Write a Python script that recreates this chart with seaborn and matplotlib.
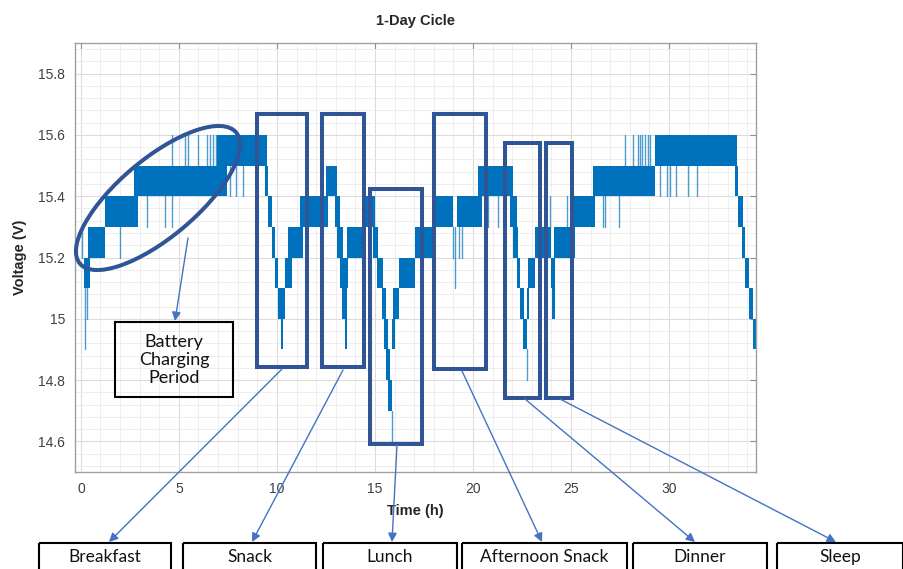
import numpy as np
import pandas as pd
import seaborn as sns
import matplotlib.pyplot as plt
from matplotlib.patches import Rectangle, Ellipse
from matplotlib.ticker import MultipleLocator

# Voltage trace: dense switching between adjacent 0.1 V levels
# is stored as bands (start time, end time, lower level of the 0.1 V band)
band_start = [0.15, 0.36, 1.22, 2.70, 6.95,
              9.40, 9.54, 9.74, 9.90, 10.05, 10.23, 10.26, 10.40, 10.56, 11.17, 12.50,
              12.96, 13.06, 13.20, 13.30, 13.47, 13.55, 13.60, 14.34,
              14.90, 15.10, 15.36, 15.46, 15.56, 15.66, 15.87, 15.92, 16.22, 17.04, 17.90,
              19.20, 20.26,
              21.89, 22.04, 22.24, 22.40, 22.55, 22.76, 22.80, 23.16,
              24.00, 24.05, 24.15, 25.10, 26.12, 29.29,
              33.37, 33.52, 33.72, 33.88, 34.08, 34.29]
band_end = [0.45, 1.22, 2.90, 7.45, 9.50,
            9.55, 9.74, 9.90, 10.05, 10.26, 10.33, 10.40, 10.77, 11.33, 12.60, 13.06,
            13.21, 13.37, 13.50, 13.57, 13.60, 13.65, 14.34, 15.00,
            15.15, 15.40, 15.56, 15.66, 15.77, 15.87, 16.02, 16.22, 17.04, 17.90, 18.98,
            20.46, 22.04,
            22.24, 22.30, 22.40, 22.60, 22.76, 22.85, 23.16, 24.00,
            24.20, 24.18, 25.20, 26.22, 29.29, 33.47,
            33.52, 33.78, 33.88, 34.08, 34.29, 34.44]
band_low = [15.1, 15.2, 15.3, 15.4, 15.5,
            15.4, 15.3, 15.2, 15.1, 15.0, 14.9, 15.0, 15.1, 15.2, 15.3, 15.4,
            15.3, 15.2, 15.1, 15.0, 14.9, 15.1, 15.2, 15.3,
            15.2, 15.1, 15.0, 14.9, 14.8, 14.7, 14.9, 15.0, 15.1, 15.2, 15.3,
            15.3, 15.4,
            15.3, 15.2, 15.1, 15.0, 14.9, 15.0, 15.1, 15.2,
            15.1, 15.0, 15.2, 15.3, 15.4, 15.5,
            15.4, 15.3, 15.2, 15.1, 15.0, 14.9]

# isolated excursions (time, low voltage, high voltage)
spike_t = [0.05, 0.20, 0.30, 2.00, 3.37, 4.29, 4.64, 4.64, 5.30, 5.46, 5.97, 6.43, 6.58,
           6.73, 6.89, 7.60, 7.90, 8.25, 15.85, 19.00, 19.08, 19.30, 19.45, 20.77, 21.28,
           22.76, 23.93, 24.80, 26.63, 26.73, 27.45, 27.76, 28.16, 28.42, 28.52, 28.62,
           28.78, 28.93, 29.03, 29.54, 29.90, 30.05, 30.36, 30.97, 31.43]
spike_lo = [15.2, 14.9, 15.0, 15.2, 15.3, 15.3, 15.3, 15.5, 15.5, 15.5, 15.5, 15.5, 15.5,
            15.5, 15.5, 15.4, 15.4, 15.4, 14.6, 15.2, 15.1, 15.2, 15.2, 15.3, 15.3,
            14.8, 15.3, 15.3, 15.3, 15.3, 15.3, 15.5, 15.5, 15.5, 15.5, 15.5,
            15.5, 15.5, 15.5, 15.4, 15.4, 15.4, 15.4, 15.4, 15.4]
spike_hi = [15.3, 15.2, 15.2, 15.3, 15.4, 15.4, 15.4, 15.6, 15.6, 15.6, 15.6, 15.6, 15.6,
            15.6, 15.6, 15.5, 15.5, 15.5, 14.7, 15.3, 15.3, 15.3, 15.3, 15.4, 15.4,
            14.9, 15.4, 15.4, 15.4, 15.4, 15.4, 15.6, 15.6, 15.6, 15.6, 15.6,
            15.6, 15.6, 15.6, 15.5, 15.5, 15.5, 15.5, 15.5, 15.5]

event_labels = ['Breakfast', 'Snack', 'Lunch', 'Afternoon Snack', 'Dinner', 'Sleep']

LINE = '#0072BD'

sns.set_style('white')
plt.rcParams['font.family'] = ['Liberation Sans', 'DejaVu Sans']

fig = plt.figure(figsize=(9.04, 5.69), dpi=100)
ax = fig.add_axes([75 / 904, 97 / 569, 680.6 / 904, 429 / 569])

for t0, t1, lo in zip(band_start, band_end, band_low):
    ax.fill_between([t0, t1], lo, lo + 0.1, color=LINE, lw=0)

spikes = pd.DataFrame({
    't': np.repeat(spike_t, 2),
    'v': np.ravel(np.column_stack([spike_lo, spike_hi])),
    'id': np.repeat(np.arange(len(spike_t)), 2),
})
sns.lineplot(data=spikes, x='t', y='v', units='id', estimator=None, sort=False,
             color=LINE, lw=1.0, alpha=0.7, ax=ax)

ax.set_xlim(-0.3, 34.42)
ax.set_ylim(14.5, 15.9)
ax.xaxis.set_major_locator(MultipleLocator(5))
ax.xaxis.set_minor_locator(MultipleLocator(1))
ax.yaxis.set_major_locator(MultipleLocator(0.2))
ax.yaxis.set_minor_locator(MultipleLocator(0.04))
ax.set_yticks([14.6, 14.8, 15.0, 15.2, 15.4, 15.6, 15.8])
ax.set_yticklabels(['14.6', '14.8', '15', '15.2', '15.4', '15.6', '15.8'])
ax.grid(which='major', color='#dcdcdc', lw=0.8)
ax.grid(which='minor', color='#ebebeb', lw=0.6)
ax.set_axisbelow(True)
ax.tick_params(which='major', direction='in', top=True, right=True, length=4,
               width=0.8, color='#8c8c8c', labelsize=10, labelcolor='#404040', pad=7)
ax.tick_params(which='minor', length=0)
for s in ax.spines.values():
    s.set_color('#a0a0a0')
    s.set_linewidth(1.0)
ax.set_xlabel('Time (h)', fontweight='bold', fontsize=10.5, labelpad=6)
ax.set_ylabel('Voltage (V)', fontweight='bold', fontsize=10.5, labelpad=8)
ax.set_title('1-Day Cicle', fontweight='bold', fontsize=10.5, pad=13)

# annotation layer in pixel coordinates
ov = fig.add_axes([0, 0, 1, 1], zorder=5)
ov.set_xlim(0, 904)
ov.set_ylim(569, 0)
ov.axis('off')
ov.patch.set_alpha(0)

NAVY = '#2F5597'
ARROW = '#4472C4'
ov.add_patch(Ellipse((158, 198), 204, 78, angle=-40, fill=False, ec=NAVY, lw=2.9))

windows = [(257.5, 113.5, 307.5, 366.5), (322.5, 113.5, 364.5, 367),
           (370.5, 188.5, 422, 443.5), (434, 114, 486, 369),
           (505, 142.5, 540, 397.5), (546, 142.5, 572, 397.5)]
for x0, y0, x1, y1 in windows:
    ov.add_patch(Rectangle((x0, y0), x1 - x0, y1 - y0, fill=False, ec=NAVY, lw=2.9))

boxes = [(39, 171), (183, 316), (323, 457), (462, 627), (633, 767), (777, 903)]
for (x0, x1), lab in zip(boxes, event_labels):
    ov.add_patch(Rectangle((x0, 543), x1 - x0, 40, fill=False, ec='black', lw=1.5,
                           clip_on=False))
    ov.text((x0 + x1) / 2, 557, lab, ha='center', va='center', fontsize=12.5,
            family=['Lato', 'DejaVu Sans'], color='#111111')

ov.add_patch(Rectangle((115, 322), 118, 75, fill=False, ec='black', lw=1.5))
ov.text(174, 360, 'Battery\nCharging\nPeriod', ha='center', va='center', fontsize=13,
        linespacing=1.15, family=['Lato', 'DejaVu Sans'], color='#111111')

arrows = [((188, 238), (175, 321)),
          ((282, 369), (109, 542)), ((343, 370), (252, 542)), ((397, 445), (392, 542)),
          ((462, 371), (542, 542)), ((525, 399), (695, 542)), ((560, 399), (836, 542))]
for start, end in arrows:
    ov.annotate('', xy=end, xytext=start,
                arrowprops=dict(arrowstyle='-|>', color=ARROW, lw=1.0,
                                mutation_scale=13, shrinkA=0, shrinkB=0))

fig.savefig('out.png', dpi=100)
